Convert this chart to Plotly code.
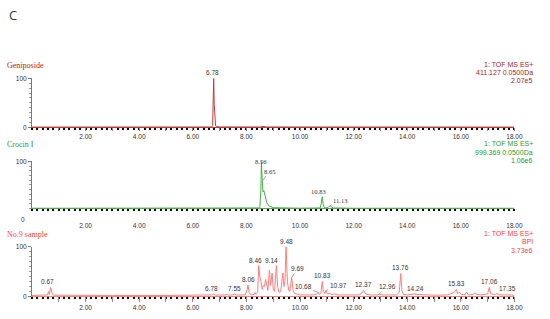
import plotly.graph_objects as go

# --- data -------------------------------------------------------------
# Geniposide (m/z 411.127) extracted ion chromatogram
geni_t = [0.00, 3.00, 6.00, 6.70, 6.74, 6.76, 6.78, 6.80, 6.82, 6.85, 6.90, 7.00,
          8.50, 8.62, 8.75, 10.00, 14.00, 18.00]
geni_i = [0.3, 0.3, 0.4, 0.5, 3, 40, 100, 45, 8, 3, 1.5, 0.6,
          0.5, 1.5, 0.5, 0.4, 0.3, 0.3]

# Crocin I (m/z 999.369) extracted ion chromatogram
croc_t = [0.00, 5.00, 8.40, 8.50, 8.54, 8.56, 8.59, 8.62, 8.65, 8.70, 8.76, 8.85,
          9.00, 10.00, 10.75, 10.79, 10.81, 10.83, 10.86, 10.90, 10.95, 11.05,
          11.10, 11.13, 11.17, 11.25, 12.00, 18.00]
croc_i = [0.3, 0.3, 0.4, 1, 40, 100, 60, 35, 38, 25, 12, 5,
          1.5, 0.5, 1, 10, 24, 25, 10, 2, 1, 2,
          5, 6, 3, 1, 0.4, 0.3]

# No.9 sample base peak intensity chromatogram
bpi_t = [0.00, 0.50, 0.58, 0.62, 0.65, 0.70, 0.74, 0.80, 1.50, 3.00, 5.00, 6.50,
         6.72, 6.78, 6.84, 7.20, 7.28, 7.35, 7.50, 7.55, 7.62, 7.80, 7.95, 8.02,
         8.06, 8.10, 8.18, 8.28, 8.32, 8.36, 8.42, 8.46, 8.50, 8.55, 8.59, 8.63,
         8.67, 8.72, 8.76, 8.80, 8.86, 8.90, 8.96, 9.00, 9.05, 9.12, 9.17, 9.22,
         9.28, 9.36, 9.40, 9.44, 9.48, 9.53, 9.58, 9.62, 9.69, 9.74, 9.80, 9.90,
         10.00, 10.30, 10.50, 10.62, 10.68, 10.72, 10.78, 10.83, 10.87, 10.92, 10.97, 11.02,
         11.10, 11.20, 11.30, 11.40, 11.60, 11.80, 12.00, 12.20, 12.30, 12.37, 12.45, 12.60,
         12.90, 12.96, 13.05, 13.30, 13.50, 13.60, 13.70, 13.76, 13.80, 13.86, 14.00, 14.20,
         14.24, 14.35, 14.60, 15.00, 15.50, 15.75, 15.83, 15.88, 15.95, 16.02, 16.15, 16.22,
         16.28, 16.45, 16.52, 16.60, 16.75, 17.00, 17.06, 17.12, 17.30, 17.35, 17.42, 17.60,
         17.80, 17.90, 18.00]
bpi_i = [2, 2, 3, 10, 4, 18, 8, 2.5, 2, 2, 2, 2.5,
         3, 5, 2.5, 3, 4, 2.5, 3, 5, 3, 3, 3, 12,
         23, 8, 3, 4, 8, 4, 8, 62, 40, 28, 14, 22,
         20, 34, 18, 12, 53, 22, 47, 15, 10, 62, 18, 8,
         10, 47, 20, 30, 100, 30, 12, 10, 38, 12, 6, 4,
         3, 3, 3, 5, 8, 4, 6, 30, 10, 6, 12, 5,
         6, 4, 5, 3, 3.5, 3, 3, 3, 6, 12, 5, 3,
         3, 5, 3, 3, 4, 3, 8, 46, 12, 4, 3, 4,
         5, 4, 3, 2.5, 3, 8, 14, 6, 8, 4, 3, 9,
         3, 4, 7, 4, 3, 5, 18, 5, 4, 6, 3, 3,
         4, 3, 2]

geni_peaks = ["6.78"]
croc_peaks = ["8.56", "8.65", "10.83", "11.13"]
bpi_peaks = ["0.67", "6.78", "7.55", "8.06", "8.46", "9.14", "9.48", "9.69", "10.68",
             "10.83", "10.97", "12.37", "12.96", "13.76", "14.24", "15.83", "17.06", "17.35"]

panel_titles = ["Geniposide", "Crocin I", "No.9 sample"]
panel_info = [["1: TOF MS ES+", "411.127 0.0500Da", "2.07e5"],
              ["1: TOF MS ES+", "999.369 0.0500Da", "1.06e6"],
              ["1: TOF MS ES+", "BPI", "3.73e6"]]

x_ticks = list(range(1, 19))
x_ticktext = [f"{v:.2f}" if v % 2 == 0 else "" for v in x_ticks]

# --- styling ----------------------------------------------------------
W, H = 550, 319
line_colors = ["rgb(190,60,60)", "rgb(70,175,70)", "rgb(255,125,125)"]
text_colors = ["rgb(165,35,35)", "rgb(40,155,40)", "rgb(255,60,60)"]
# (baseline px, top px) of each panel
panel_px = [(126, 76), (209, 161), (299, 248)]
info_px = [(62, 70, 78), (143, 152, 160), (235, 243, 252)]
title_px = [63, 144, 236]
# major tick length pushes the x labels down; crocin panel has a bigger gap
x_ticklen = [3, 11, 5]
x_tickcolor = ["#888", "rgba(0,0,0,0)", "#888"]

# per-label offsets (xshift, yshift) or leader line (ax, ay)
label_style = {
    0: {"6.78": dict(xshift=-1)},
    1: {"8.56": dict(yanchor="middle", yshift=0), "8.65": dict(ax=6, ay=-9),
        "10.83": dict(xshift=-4), "11.13": dict(ax=10, ay=-5)},
    2: {"0.67": dict(xshift=-2), "6.78": dict(xshift=-2), "8.46": dict(xshift=-3),
        "9.14": dict(xshift=-5), "9.69": dict(ax=6, ay=-9), "10.68": dict(ax=-15, ay=-6),
        "10.97": dict(ax=12, ay=-5), "12.96": dict(ax=8, ay=-7), "14.24": dict(xshift=2),
        "17.35": dict(ax=10, ay=-5)},
}

series = [(geni_t, geni_i, geni_peaks), (croc_t, croc_i, croc_peaks), (bpi_t, bpi_i, bpi_peaks)]


def peak_height(t, ts, ys):
    near = [y for tt, y in zip(ts, ys) if abs(tt - t) <= 0.035]
    return max(near) if near else 0


fig = go.Figure()
annotations = []
layout = {}

for k, (ts, ys, peaks) in enumerate(series):
    n = k + 1
    xa, ya = f"x{n}" if n > 1 else "x", f"y{n}" if n > 1 else "y"
    fig.add_trace(go.Scatter(
        x=ts, y=ys, mode="lines", xaxis=xa, yaxis=ya,
        line=dict(color=line_colors[k], width=1),
        cliponaxis=False, showlegend=False, hoverinfo="skip"
    ))

    base, top = panel_px[k]
    layout[f"xaxis{n}" if n > 1 else "xaxis"] = dict(
        domain=[32.5 / W, 523 / W], anchor=ya, range=[0, 18],
        tickmode="array", tickvals=x_ticks, ticktext=x_ticktext,
        ticks="outside", ticklen=x_ticklen[k], tickwidth=1, tickcolor=x_tickcolor[k],
        minor=dict(ticks="outside", dtick=0.2, ticklen=2, tickwidth=2, tickcolor="black"),
        showline=True, linecolor=line_colors[k], linewidth=1,
        showgrid=False, zeroline=False,
        tickfont=dict(family="Liberation Sans", size=6.5, color="#333"),
    )
    layout[f"yaxis{n}" if n > 1 else "yaxis"] = dict(
        domain=[1 - base / H, 1 - top / H], anchor=xa, range=[0, 100],
        tickmode="array", tickvals=[100] if k == 1 else [0, 100],
        ticks="outside", ticklen=3, tickwidth=1, tickcolor="#777",
        minor=dict(ticks="outside", dtick=10, ticklen=2, tickwidth=1, tickcolor="#999"),
        showline=True, linecolor="#777", linewidth=1,
        showgrid=False, zeroline=False,
        tickfont=dict(family="Liberation Sans", size=6.5, color="#333"),
    )

    # panel title and right-hand info block
    annotations.append(dict(
        x=5 / W, y=1 - title_px[k] / H, xref="paper", yref="paper",
        text=panel_titles[k], showarrow=False, xanchor="left", yanchor="middle",
        font=dict(family="Liberation Serif", size=8, color=text_colors[k])
    ))
    for line, py in zip(panel_info[k], info_px[k]):
        annotations.append(dict(
            x=544 / W, y=1 - py / H, xref="paper", yref="paper",
            text=line, showarrow=False, xanchor="right", yanchor="middle",
            font=dict(family="Liberation Sans", size=7, color=text_colors[k])
        ))

    # peak labels
    label_font = dict(family="Liberation Serif" if k == 1 else "Liberation Sans",
                      size=6.5, color="#333")
    for p in peaks:
        t = float(p)
        if p == "8.65":
            y = peak_height(8.62, ts, ys)
            t = 8.62
        else:
            y = peak_height(t, ts, ys)
        st = dict(label_style[k].get(p, {}))
        ann = dict(x=t, y=y, xref=xa, yref=ya, text=p, font=label_font)
        if "ax" in st:
            ann.update(showarrow=True, arrowhead=0, arrowwidth=0.6, arrowcolor="#666",
                       standoff=0, ax=st["ax"], ay=st["ay"])
        else:
            ann.update(showarrow=False, xanchor="center",
                       yanchor=st.get("yanchor", "bottom"),
                       xshift=st.get("xshift", 0), yshift=st.get("yshift", 0))
        annotations.append(ann)

# the crocin panel "0" sits below its baseline
annotations.append(dict(
    x=23 / W, y=1 - 220 / H, xref="paper", yref="paper", text="0", showarrow=False,
    xanchor="center", yanchor="middle",
    font=dict(family="Liberation Sans", size=6.5, color="#333")
))
# panel letter
annotations.append(dict(
    x=7 / W, y=1 - 11 / H, xref="paper", yref="paper", text="C", showarrow=False,
    xanchor="left", yanchor="middle",
    font=dict(family="Open Sans", size=13, color="#333")
))

fig.update_layout(
    width=W, height=H,
    margin=dict(l=0, r=0, t=0, b=0),
    plot_bgcolor="white", paper_bgcolor="white",
    annotations=annotations,
    **layout
)

# drop the default body margin so the figure fills the window exactly
fig.write_html("out.html", config={"displayModeBar": False},
               post_script="document.body.style.margin='0';")
